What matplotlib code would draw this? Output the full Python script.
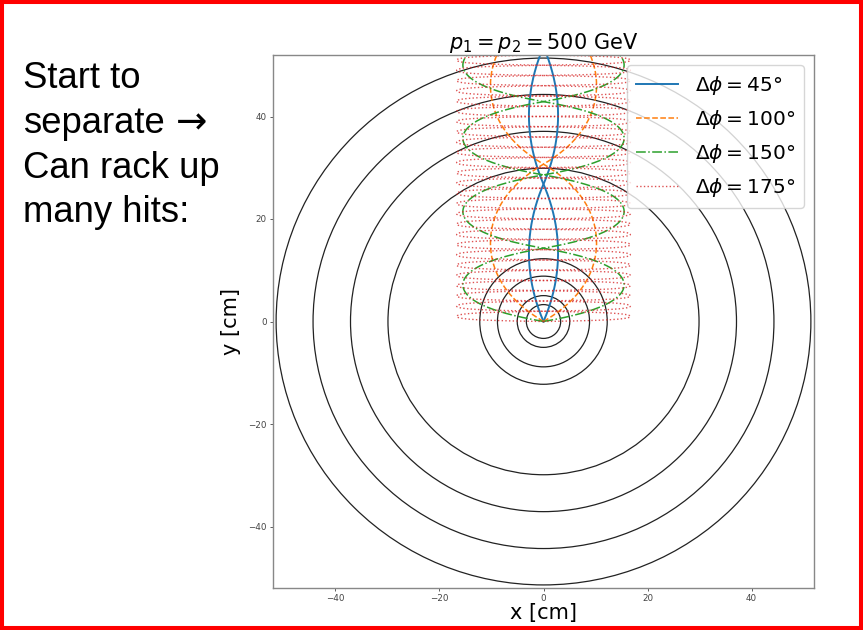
import numpy as np
import matplotlib
matplotlib.use("Agg")
import matplotlib.pyplot as plt
from matplotlib.patches import Circle, Rectangle

# ---- data ----
layer_radii_cm = [3.3, 5.05, 8.85, 12.25, 29.9, 37.1, 44.3, 51.4]
dphi_deg = [45, 100, 150, 175]
amplitude_cm = [2.8, 10.2, 15.5, 16.7]      # max |x| of each track pair
half_period_cm = [26.8, 30.7, 14.3, 2.0]    # y distance between crossings
arch_bluntness = [0.4, 1.8, 2.0, 3.8]       # shape of each arch (0 = parabola)
series_labels = [r"$\Delta\phi = 45°$", r"$\Delta\phi = 100°$",
                 r"$\Delta\phi = 150°$", r"$\Delta\phi = 175°$"]
line_styles = ["-", "--", "-.", ":"]
colors = ["C0", "C1", "C2", "C3"]
title = r"$p_1 = p_2 = 500$ GeV"
xticks = [-40, -20, 0, 20, 40]
yticks = [-40, -20, 0, 20, 40]
side_lines = ["Start to", "separate", "Can rack up", "many hits:"]
side_baselines_px = [88, 133, 178, 222]
y_max_track = 53.0

W, H = 863, 630
fig = plt.figure(figsize=(W / 100, H / 100), dpi=100)
fig.patch.set_facecolor("white")

ax = fig.add_axes([273 / W, 1 - 588 / H, (814 - 273) / W, (588 - 55) / H])

for r in layer_radii_cm:
    ax.add_patch(Circle((0, 0), r, fill=False, edgecolor="#222222", lw=0.9))

for A, L, u0, ls, c, lab in zip(amplitude_cm, half_period_cm, arch_bluntness,
                                line_styles, colors, series_labels):
    y = np.linspace(0, y_max_track, 60000)
    k = np.floor(y / L)
    s = y / L - k
    sign = np.where(k % 2 == 0, 1.0, -1.0)
    shape = (np.cosh(u0) - np.cosh(u0 * (1 - 2 * s))) / (np.cosh(u0) - 1)
    x = sign * A * shape
    if ls == "-":
        kw = dict(lw=1.4)
    elif ls == ":":
        kw = dict(lw=1.0, alpha=0.8)
    else:
        kw = dict(lw=1.1)
    ax.plot(x, y, ls=ls, color=c, label=lab, **kw)
    ax.plot(-x, y, ls=ls, color=c, **kw)

ax.set_xlim(-52, 52)
ax.set_ylim(-52, 52)
ax.set_xticks(xticks)
ax.set_yticks(yticks)
ax.tick_params(labelsize=6.3, length=2.5, width=0.6, colors="#444444", pad=2)
for sp in ax.spines.values():
    sp.set_color("#888888")
    sp.set_linewidth(1.0)
ax.set_xlabel("x [cm]", fontsize=15, labelpad=0)
ax.set_ylabel("y [cm]", fontsize=15, labelpad=5)
ax.set_title(title, fontsize=15, pad=-1)

leg = ax.legend(loc="upper right", fontsize=14.5, handlelength=2.1,
                borderpad=0.45, labelspacing=0.55, handletextpad=0.8)

for line, yb in zip(side_lines, side_baselines_px):
    fig.text(23 / W, 1 - yb / H, line, fontsize=26.3, family="Liberation Sans",
             va="baseline", ha="left")
fig.text(176 / W, 1 - 133 / H, "\u2192", fontsize=27, family="DejaVu Sans",
         va="baseline", ha="left")

fig.patches.append(Rectangle((0, 0), 1, 1, transform=fig.transFigure,
                             fill=False, edgecolor="#ff0000", lw=5.8))

fig.savefig("out.png", dpi=100)
